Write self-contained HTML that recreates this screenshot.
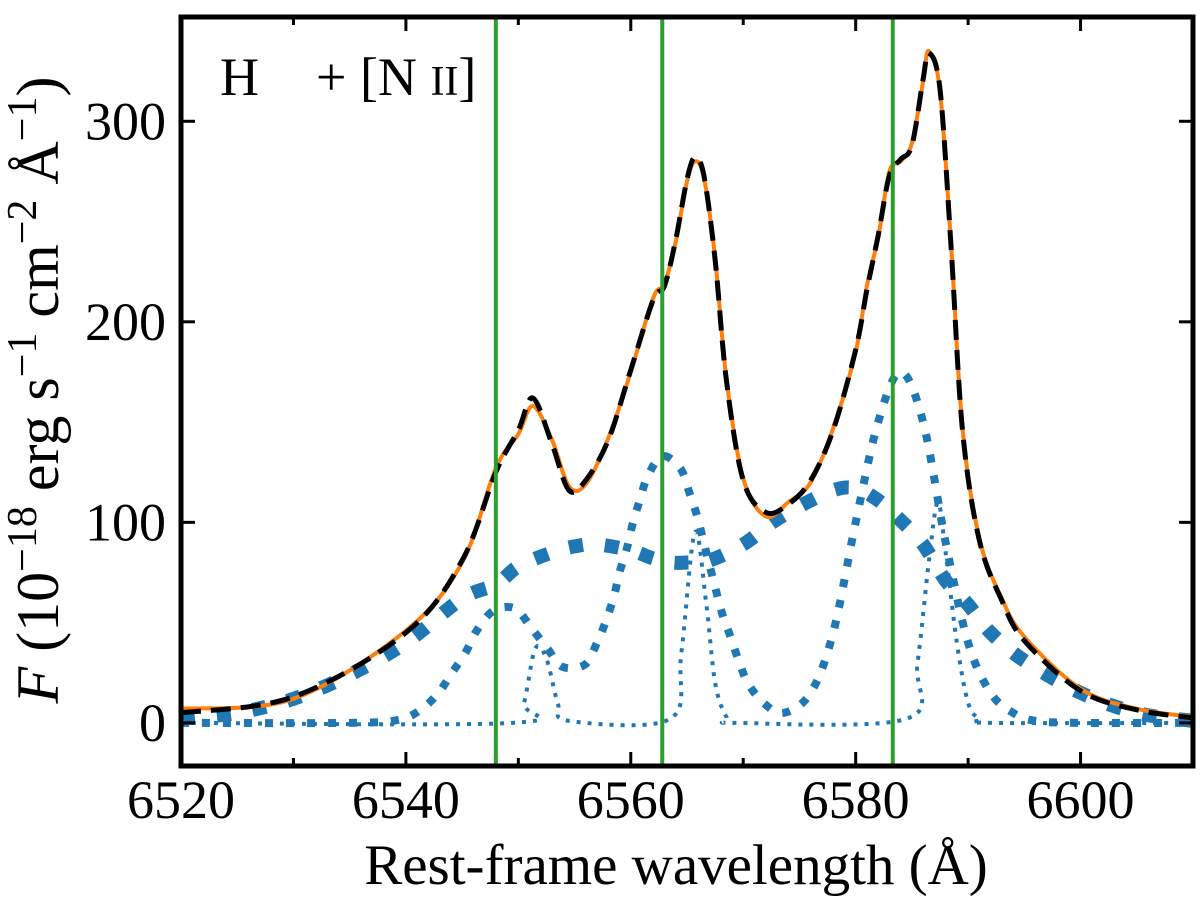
<!DOCTYPE html>
<html><head><meta charset="utf-8">
<style>
html,body{margin:0;padding:0;background:#fff;}
svg{display:block;font-family:"Liberation Serif","DejaVu Serif",serif;}
</style></head>
<body>
<svg id="chart" width="1200" height="900" viewBox="0 0 1200 900">
  <defs><clipPath id="plotclip"><rect x="181" y="17" width="1012" height="749"/></clipPath></defs>
  <g id="marks" clip-path="url(#plotclip)"></g>
  <g id="axes"></g>
  <text x="220" y="95" font-size="54">H</text>
  <text x="316" y="95" font-size="54">+ [N <tspan font-size="42">II</tspan>]</text>
  <text x="676" y="884" font-size="57" text-anchor="middle">Rest-frame wavelength (Å)</text>
  <text transform="translate(58,390) rotate(-90)" font-size="60" text-anchor="middle"><tspan font-style="italic">F</tspan>  (10<tspan font-size="42" dy="-22">−18</tspan><tspan dy="22"> erg s</tspan><tspan font-size="42" dy="-22">−1</tspan><tspan dy="22"> cm</tspan><tspan font-size="42" dy="-22">−2</tspan><tspan dy="22"> Å</tspan><tspan font-size="42" dy="-22">−1</tspan><tspan dy="22">)</tspan></text>
</svg>
<script>
const xTicks = [6520, 6540, 6560, 6580, 6600];
const yTicks = [0, 100, 200, 300];
const refLines = [6548.0, 6562.8, 6583.3];

const totalX = [6520,6530,6540,6545,6548,6550,6551.3,6553,6554.5,6556,6558,6560,6562,6563,6564,6565,6565.7,6566.5,6567.5,6568.5,6570,6572,6574,6576,6578,6580,6581,6582,6583,6584,6585,6586,6586.5,6587.5,6588.5,6589.5,6591,6593,6595,6600,6605,6610];
const totalY = [5,13,45,81,125,146,162,139,116,121,141,176,211,218,241,271,282,273,231,171,121,105,109,121,146,186,216,243,273,281,288,321,334,316,236,146,91,61,41,16,6.5,2.5];
const dataY  = [7,12,46,80,127,144,158,141,118,119,142,175,212,219,240,270,280,272,232,172,122,103,110,120,147,185,218,242,275,280,289,320,335,315,237,147,92,62,43,17,7,3];

const broadX = [6520,6525,6530,6535,6540,6545,6548,6550,6553,6555,6557,6560,6562,6563.6,6565,6567,6570,6572.6,6575,6578,6580,6582,6584,6586,6588,6590,6592,6595,6600,6605,6610];
const broadY = [2,5,12,24,40,62,69,78,85,88,89,86,82,80,80,81,89,100,108,116,117,111,101,89,71,59,45,31,15,5,1];

const medX = [6520,6535,6539.3,6541.3,6542.9,6544.1,6545.3,6546.3,6547.8,6549.7,6551.2,6552.6,6553.9,6555.9,6557,6557.8,6558.5,6559,6559.7,6560.2,6560.8,6561.5,6562.8,6564.4,6565.2,6565.9,6566.9,6568.1,6568.8,6569.6,6570.4,6571.8,6573.6,6576,6578,6580,6582,6584,6586,6588,6590,6592,6594,6596,6600,6610];
const medY = [0,0,1.5,6.5,15,25,35,46,56,57,47,37,28,29,40,51,63,75,88,100,111,123,133,127,115,103,81,55,44,31,20,10,5,15,45,100,150,175,150,90,40,15,5,1,0,0];

const narrowX = [6520,6549.5,6550.5,6551.5,6552.5,6553.5,6554.5,6563.5,6564.5,6565.7,6566.7,6567.5,6568.5,6569.5,6584.5,6585.5,6586.5,6587.3,6588,6589,6590,6591,6592,6610];
const narrowY = [0,0,10,37,32,10,1,2,35,95,60,20,3,0,2,30,80,110,85,40,10,2,0,0];

const X0=6520, X1=6610, Y0=-21.5, Y1=352;
const L=181, R=1193, T=17, B=766;
function sx(v){return L+(v-X0)/(X1-X0)*(R-L);}
function sy(v){return B-(v-Y0)/(Y1-Y0)*(B-T);}
const NS='http://www.w3.org/2000/svg';
function mk(tag,attrs,parent){const e=document.createElementNS(NS,tag);for(const k in attrs)e.setAttribute(k,attrs[k]);parent.appendChild(e);return e;}
function pathFrom(xs,ys){
  const p=xs.map((x,i)=>[sx(x),sy(ys[i])]);
  let d='M'+p[0][0].toFixed(2)+','+p[0][1].toFixed(2);
  for(let i=0;i<p.length-1;i++){
    const p0=p[Math.max(0,i-1)],p1=p[i],p2=p[i+1],p3=p[Math.min(p.length-1,i+2)];
    const t=0.5/3;
    let c1x=p1[0]+(p2[0]-p0[0])*t, c1y=p1[1]+(p2[1]-p0[1])*t;
    let c2x=p2[0]-(p3[0]-p1[0])*t, c2y=p2[1]-(p3[1]-p1[1])*t;
    d+=' C'+c1x.toFixed(2)+','+c1y.toFixed(2)+' '+c2x.toFixed(2)+','+c2y.toFixed(2)+' '+p2[0].toFixed(2)+','+p2[1].toFixed(2);
  }
  return d;
}
const marks=document.getElementById('marks');
const axes=document.getElementById('axes');

let e;
e=mk('path',{d:pathFrom(narrowX,narrowY),fill:'none',stroke:'#1f77b4','stroke-width':4,'stroke-dasharray':'4 7'},marks);


e=mk('path',{d:pathFrom(medX,medY),fill:'none',stroke:'#1f77b4','stroke-width':8,'stroke-dasharray':'8 13'},marks);


e=mk('path',{d:pathFrom(broadX,broadY),fill:'none',stroke:'#1f77b4','stroke-width':14,'stroke-dasharray':'14 22'},marks);


e=mk('path',{d:pathFrom(totalX,dataY),fill:'none',stroke:'#ff7f0e','stroke-width':4},marks);


e=mk('path',{d:pathFrom(totalX,totalY),fill:'none',stroke:'#000','stroke-width':5,'stroke-dasharray':'20 10'},marks);


refLines.forEach(v=>{
  const l=mk('line',{x1:sx(v),x2:sx(v),y1:T,y2:B,stroke:'#2ca02c','stroke-width':4},marks);
  
  
});

for(let v=X0; v<=X1; v+=10){
  const major = xTicks.indexOf(v)>=0;
  const len = major?14:8;
  const t1=mk('line',{x1:sx(v),x2:sx(v),y1:B,y2:B-len,stroke:'#000','stroke-width':3},axes);
  
  
  const t2=mk('line',{x1:sx(v),x2:sx(v),y1:T,y2:T+len,stroke:'#000','stroke-width':3},axes);
  
  
}
xTicks.forEach(v=>{
  const t=mk('text',{x:sx(v),y:818,'font-size':54,'text-anchor':'middle'},axes);
  t.textContent=v;
  
  
});
yTicks.forEach(v=>{
  const t1=mk('line',{x1:L,x2:L+14,y1:sy(v),y2:sy(v),stroke:'#000','stroke-width':3},axes);
  
  
  const t2=mk('line',{x1:R,x2:R-14,y1:sy(v),y2:sy(v),stroke:'#000','stroke-width':3},axes);
  
  
  const t=mk('text',{x:166,y:sy(v)+18,'font-size':54,'text-anchor':'end'},axes);
  t.textContent=v;
  
  
});
const frame=mk('rect',{x:L,y:T,width:R-L,height:B-T,fill:'none',stroke:'#000','stroke-width':5},axes);


</script>
</body></html>
